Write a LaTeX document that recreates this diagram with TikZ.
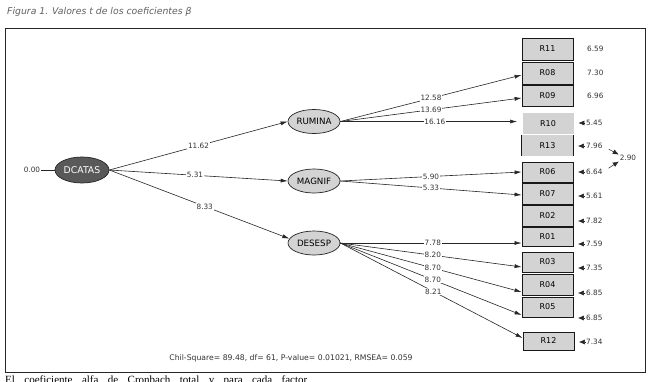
\documentclass[tikz,border=0pt]{standalone}
\usepackage{fontspec}
\setmainfont{DejaVu Sans}
\newfontfamily\serifcap{Liberation Serif}
\usetikzlibrary{shapes.geometric,arrows.meta}
\definecolor{lgray}{HTML}{D3D3D3}
\definecolor{dgray}{HTML}{595959}
\definecolor{txtg}{HTML}{333333}
\definecolor{capg}{HTML}{606060}
\tikzset{
  lat/.style={ellipse, draw=black!85, fill=lgray, line width=0.7pt, minimum width=52pt, minimum height=24pt, inner sep=0pt, font=\fontsize{8.7}{9}\selectfont},
  obs/.style={rectangle, draw=black!90, fill=lgray, line width=0.8pt, minimum width=51pt, inner sep=0pt, font=\fontsize{8}{9}\selectfont},
  num/.style={font=\fontsize{7.3}{8}\selectfont, text=txtg, inner sep=0.8pt, fill=white},
  errlab/.style={font=\fontsize{7.3}{8}\selectfont, text=txtg, inner sep=0pt, anchor=west},
  conn/.style={draw=black!85, line width=0.6pt, -{Latex[length=7pt,width=4pt]}},
  errtip/.style={draw=black!85, line width=0.5pt, -{Latex[length=6pt,width=5pt]}},
}
\begin{document}
\begin{tikzpicture}[x=1pt,y=-1pt]
\useasboundingbox (0,0) rectangle (652,381);
\fill[white] (0,0) rectangle (652,381);
% caption
\node[anchor=west, inner sep=0pt, text=capg, font=\itshape\fontsize{9.3}{10}\selectfont] (cap) at (7,12) {Figura 1. Valores t de los coeficientes β};
% frame
\draw[line width=1pt, black!85] (5,28) rectangle (645,372);
% bottom clipped text
\node[anchor=north west, inner sep=0pt, font=\serifcap\fontsize{11}{12}\selectfont] (foot) at (5,376) {\makebox[302pt][s]{El coeficiente alfa de Cronbach total y para cada factor}};

% latent variables
\node[lat, fill=dgray, text=white, minimum width=54pt, minimum height=26pt, font=\fontsize{9.3}{10}\selectfont] (dc) at (82,170) {DCATAS};
\node[lat] (ru) at (314,121.5) {RUMINA};
\node[lat] (ma) at (314,181) {MAGNIF};
\node[lat] (de) at (314,243) {DESESP};
\node[num, fill=none] (zero) at (32,170) {0.00};
\draw[black!85, line width=0.6pt] (zero.east) -- (dc.west);

% observed variables
\node[obs, minimum height=22pt] (R11) at (547.5,49) {R11};
\node[obs, minimum height=22pt] (R08) at (547.5,73) {R08};
\node[obs, minimum height=21pt] (R09) at (547.5,95.5) {R09};
\node[obs, draw=none, minimum height=21pt] (R10) at (548,123.5) {R10};
\node[obs, draw=none, minimum height=21pt] (R13) at (547.5,145.5) {R13};
\draw[black!90, line width=0.8pt] (R13.north west) -- (R13.south west) (R13.north east) -- (R13.south east);
\node[obs, minimum height=20pt] (R06) at (547.5,172) {R06};
\node[obs, minimum height=21pt] (R07) at (547.5,193.5) {R07};
\node[obs, minimum height=21pt] (R02) at (547.5,215.5) {R02};
\node[obs, minimum height=19pt] (R01) at (547.5,236.5) {R01};
\node[obs, minimum height=20pt] (R03) at (547.5,262) {R03};
\node[obs, minimum height=21pt] (R04) at (547.5,284.5) {R04};
\node[obs, minimum height=20pt] (R05) at (547.5,307) {R05};
\node[obs, minimum height=18pt] (R12) at (548.5,341) {R12};

% structural paths
\draw[conn] (dc.east) -- node[num, pos=0.5] {11.62} (ru.west);
\draw[conn] (dc.east) -- node[num, pos=0.48] {5.31} (ma.west);
\draw[conn] (dc.east) -- node[num, pos=0.53] {8.33} (de.170);

% measurement paths RUMINA
\draw[conn] (ru.east) -- node[num, pos=0.5] {12.58} ([yshift=-2pt]R08.west);
\draw[conn] (ru.east) -- node[num, pos=0.5] {13.69} ([yshift=-2.5pt]R09.west);
\draw[conn, shorten >=5pt] (ru.east) -- node[num, pos=0.52] {16.16} ([yshift=2pt]R10.west);
% MAGNIF
\draw[conn] (ma.east) -- node[num, pos=0.5] {5.90} (R06.west);
\draw[conn] (ma.east) -- node[num, pos=0.5] {5.33} ([yshift=-1.5pt]R07.west);
% DESESP
\draw[conn] (de.east) -- node[num, pos=0.51] {7.78} ([yshift=-6.5pt]R01.west);
\draw[conn] (de.east) -- node[num, pos=0.51] {8.20} ([yshift=-5pt]R03.west);
\draw[conn] (de.east) -- node[num, pos=0.51] {8.70} ([yshift=-7.5pt]R04.west);
\draw[conn] (de.east) -- node[num, pos=0.51] {8.70} ([yshift=-8pt]R05.west);
\draw[conn] (de.east) -- node[num, pos=0.51] {8.21} ([yshift=3pt]R12.west);

% error variances
\node[errlab] (e11) at (587,49) {6.59};
\node[errlab] (e08) at (587,73) {7.30};
\node[errlab] (e09) at (587,96) {6.96};
\node[errlab] (e10) at (586,123) {5.45};
\node[errlab] (e13) at (586,146) {7.96};
\node[errlab] (e06) at (586,172) {6.64};
\node[errlab] (e07) at (586,196) {5.61};
\node[errlab] (e02) at (586,221) {7.82};
\node[errlab] (e01) at (586,244) {7.59};
\node[errlab] (e03) at (586,268) {7.35};
\node[errlab] (e04) at (586,293) {6.85};
\node[errlab] (e05) at (586,318) {6.85};
\node[errlab] (e12) at (586,342) {7.34};
\foreach \e/\r in {e10/R10,e13/R13,e06/R06,e07/R07,e02/R02,e01/R01,e03/R03,e04/R04,e05/R05,e12/R12}{
  \draw[errtip, shorten <=1pt, shorten >=4.5pt] (\e.west) -- (\r.east |- \e.west);
}
% covariance
\node[errlab, anchor=center] (cov) at (628,158) {2.90};
\draw[errtip, shorten <=7pt, shorten >=1pt] (e13.east) -- (cov.north west);
\draw[errtip, shorten <=7pt, shorten >=1pt] (e06.east) -- (cov.south west);

% fit statistics
\node[font=\fontsize{7.7}{8}\selectfont, text=txtg, inner sep=0pt] (fit) at (291,358) {Chil-Square= 89.48, df= 61, P-value= 0.01021, RMSEA= 0.059};
\end{tikzpicture}
\end{document}
